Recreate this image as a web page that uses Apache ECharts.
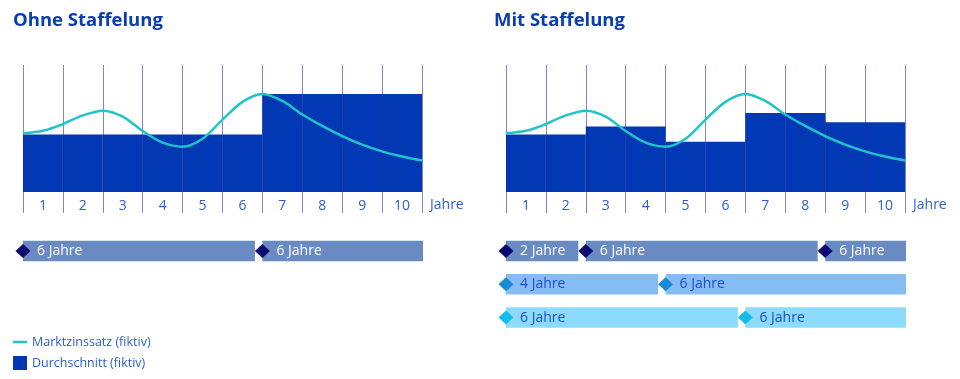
<!DOCTYPE html>
<html><head><meta charset="utf-8">
<script src="https://cdn.jsdelivr.net/npm/echarts@6/dist/echarts.min.js"></script>
<style>html,body{margin:0;padding:0;background:#fff}#c{width:960px;height:379px}</style>
</head><body><div id="c"></div>
<script>
// ---- data ----
const years = ['1','2','3','4','5','6','7','8','9','10'];
const marktX = [0,0.5,1,1.5,2,2.5,3,3.5,4,4.5,5,5.5,6,6.5,7,7.5,8,8.5,9,9.5,10];
const marktZins = [2.77,2.89,3.21,3.62,3.84,3.56,2.88,2.33,2.14,2.52,3.42,4.26,4.63,4.30,3.66,3.12,2.64,2.24,1.92,1.68,1.49];
const avgOhne = [2.72,2.72,2.72,2.72,2.72,2.72,4.63,4.63,4.63,4.63];
const avgMit = [2.72,2.72,3.10,3.10,2.37,2.37,3.73,3.73,3.30,3.30];

const ohneRow = [0,0];
const ohneStart = [0,6];
const ohneEnd = [6,10];
const ohneLabel = ['6 Jahre','6 Jahre'];

const mitRow = [0,0,0,1,1,2,2];
const mitStart = [0,2,8,0,4,0,6];
const mitEnd = [2,8,10,4,10,6,10];
const mitLabel = ['2 Jahre','6 Jahre','6 Jahre','4 Jahre','6 Jahre','6 Jahre','6 Jahre'];

const titles = ['Ohne Staffelung','Mit Staffelung'];
const seriesNames = ['Marktzinssatz (fiktiv)','Durchschnitt (fiktiv)'];
const axisName = 'Jahre';

// ---- styles ----
const FONT = '"Open Sans", "Noto Sans", sans-serif';
const BLUE = '#0039b3';
const TEAL = '#1fc3ca';
const VLINE = 'rgba(30,30,150,0.55)';
const LABEL = '#2d5fcf';
const barCols = ['#6a8ac4','#85bcf4','#8cdbfc'];
const diaCols = ['#0b0b72','#1a8bd2','#13bdea'];
const txtCols = ['#ffffff','#1f4fc8','#1f4fc8'];

const chart = echarts.init(document.getElementById('c'), null, {renderer:'canvas'});

const CH = {top:65, height:127};
const PR = {top:234.4, height:99.75};
const LEFT = 23, RIGHT = 506, W = 399;

function valAxis(g){
  return {type:'value', gridIndex:g, min:0, max:10, interval:1, z:5,
    axisLine:{show:false}, axisLabel:{show:false},
    axisTick:{show:true, length:21, lineStyle:{color:VLINE, width:1}},
    splitLine:{show:true, lineStyle:{color:VLINE, width:1}}};
}
function catAxis(g){
  return {type:'category', gridIndex:g, data:years, boundaryGap:true,
    axisLine:{show:false}, axisTick:{show:false},
    axisLabel:{margin:7, color:LABEL, fontSize:14, fontFamily:FONT},
    name:axisName, nameLocation:'end', nameGap:8,
    nameTextStyle:{color:LABEL, fontSize:14, fontFamily:FONT, align:'left', verticalAlign:'top', padding:[6,0,0,0]}};
}
function periodRender(rows, starts, ends, labels){
  return function(params, api){
    const i = params.dataIndex;
    const row = rows[i];
    const p0 = api.coord([starts[i], row]);
    const p1 = api.coord([ends[i], row]);
    const band = api.size([0,1])[1];
    const h = band*0.62;
    const dx = 7.5, dy = 7;
    const last = ends[i] >= 10;
    const x1 = last ? p1[0] + 1 : p1[0] - dx;
    return {type:'group', children:[
      {type:'rect', shape:{x:p0[0], y:p0[1]-h/2, width:x1-p0[0], height:h}, style:{fill:barCols[row]}},
      {type:'polygon', shape:{points:[[p0[0]-dx,p0[1]],[p0[0],p0[1]-dy],[p0[0]+dx,p0[1]],[p0[0],p0[1]+dy]]}, style:{fill:diaCols[row]}},
      {type:'text', x:p0[0]+14, y:p0[1], style:{text:labels[i], fill:txtCols[row], font:'14px ' + FONT, align:'left', verticalAlign:'middle'}}
    ]};
  };
}
const lineData = marktX.map((x,i)=>[x, marktZins[i]]);

const option = {
  animation:false,
  backgroundColor:'#ffffff',
  title:[
    {text:titles[0], left:13, top:11, padding:0, textStyle:{color:'#0a3db1', fontSize:18.5, fontWeight:'bold', fontFamily:FONT}},
    {text:titles[1], left:494, top:11, padding:0, textStyle:{color:'#0a3db1', fontSize:18.5, fontWeight:'bold', fontFamily:FONT}}
  ],
  legend:{
    orient:'vertical', left:13, top:335, itemWidth:14, itemHeight:14, itemGap:7, padding:0,
    selectedMode:false,
    textStyle:{color:LABEL, fontSize:12.5, fontFamily:FONT},
    data:[
      {name:seriesNames[0], icon:'path://M0,0M14,14M0,5.75H14V8.25H0Z', itemStyle:{color:TEAL}},
      {name:seriesNames[1], icon:'rect'}
    ]
  },
  grid:[
    {left:LEFT, width:W, top:CH.top, height:CH.height},
    {left:LEFT, width:W, top:CH.top, height:CH.height},
    {left:RIGHT, width:W, top:CH.top, height:CH.height},
    {left:RIGHT, width:W, top:CH.top, height:CH.height},
    {left:LEFT, width:W, top:PR.top, height:PR.height},
    {left:RIGHT, width:W, top:PR.top, height:PR.height}
  ],
  xAxis:[
    valAxis(0), catAxis(1), valAxis(2), catAxis(3),
    {type:'value', gridIndex:4, min:0, max:10, show:false},
    {type:'value', gridIndex:5, min:0, max:10, show:false}
  ],
  yAxis:[0,1,2,3].map(g=>({type:'value', gridIndex:g, min:0, max:6, show:false}))
    .concat([4,5].map(g=>({type:'category', gridIndex:g, data:['r1','r2','r3'], inverse:true, show:false}))),
  series:[
    {name:seriesNames[1], type:'bar', xAxisIndex:1, yAxisIndex:1, data:avgOhne, barCategoryGap:'0%', itemStyle:{color:BLUE}, z:2, silent:true},
    {name:seriesNames[0], type:'line', xAxisIndex:0, yAxisIndex:0, data:lineData, smooth:0.3, symbol:'none', lineStyle:{color:TEAL, width:2.5}, itemStyle:{color:TEAL}, z:6, silent:true},
    {name:seriesNames[1], type:'bar', xAxisIndex:3, yAxisIndex:3, data:avgMit, barCategoryGap:'0%', itemStyle:{color:BLUE}, z:2, silent:true},
    {name:seriesNames[0], type:'line', xAxisIndex:2, yAxisIndex:2, data:lineData, smooth:0.3, symbol:'none', lineStyle:{color:TEAL, width:2.5}, itemStyle:{color:TEAL}, z:6, silent:true},
    {type:'custom', xAxisIndex:4, yAxisIndex:4, silent:true,
      data:ohneRow.map((r,i)=>[ohneStart[i], r, ohneEnd[i]]), encode:{x:[0,2], y:1},
      renderItem:periodRender(ohneRow, ohneStart, ohneEnd, ohneLabel)},
    {type:'custom', xAxisIndex:5, yAxisIndex:5, silent:true,
      data:mitRow.map((r,i)=>[mitStart[i], r, mitEnd[i]]), encode:{x:[0,2], y:1},
      renderItem:periodRender(mitRow, mitStart, mitEnd, mitLabel)}
  ]
};
chart.setOption(option);
</script>
</body></html>
